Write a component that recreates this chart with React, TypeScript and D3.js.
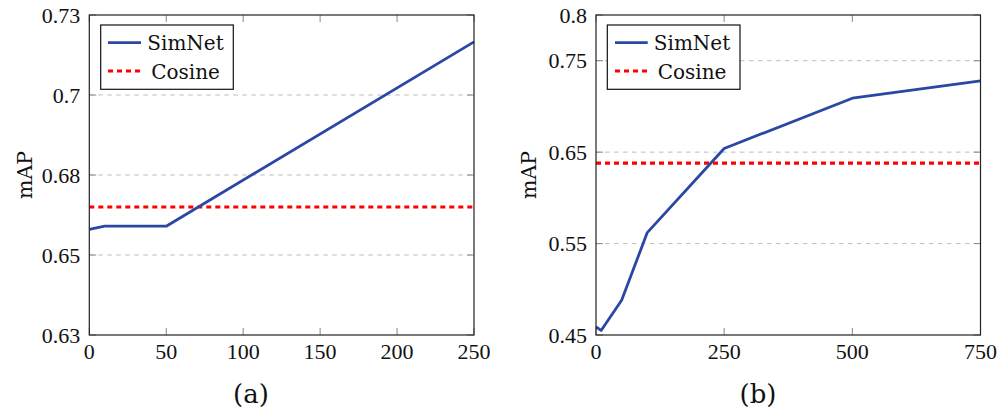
import React from "react";
import * as d3 from "d3";

// ---- Data ----
const xValuesA = [0, 10, 50, 250];
const simNetA = [0.658, 0.659, 0.659, 0.7166];
const cosineA = 0.665;
const yTicksA = [0.625, 0.65, 0.675, 0.7, 0.725];
const yTickLabelsA = ["0.63", "0.65", "0.68", "0.7", "0.73"];
const xTicksA = [0, 50, 100, 150, 200, 250];

const xValuesB = [0, 10, 50, 100, 250, 500, 750];
const simNetB = [0.459, 0.455, 0.488, 0.562, 0.654, 0.709, 0.728];
const cosineB = 0.638;
const yTicksB = [0.45, 0.55, 0.65, 0.75, 0.8];
const yTickLabelsB = ["0.45", "0.55", "0.65", "0.75", "0.8"];
const xTicksB = [0, 250, 500, 750];

const legendLabels = ["SimNet", "Cosine"];

const BLUE = "#2a47a3";
const RED = "#ff0000";
const TICK_FONT = "'Liberation Serif', serif";
const TEXT_FONT = "'DejaVu Serif', serif";

type PanelProps = {
  left: number;
  right: number;
  top: number;
  bottom: number;
  xDomain: [number, number];
  yDomain: [number, number];
  xs: number[];
  ys: number[];
  cos: number;
  yTicks: number[];
  yTickLabels: string[];
  xTicks: number[];
  gridTicks: number[];
  legend: { x0: number; x1: number; y0: number; y1: number; lineX0: number; lineX1: number; textX: number };
  caption: string;
  captionX: number;
  ylabelX: number;
};

function Panel(p: PanelProps) {
  const x = d3.scaleLinear().domain(p.xDomain).range([p.left, p.right]);
  const y = d3.scaleLinear().domain(p.yDomain).range([p.bottom, p.top]);
  const line = d3
    .line<number>()
    .x((_, i) => x(p.xs[i]))
    .y((d) => y(d));
  const tickLen = 7;
  const lg = p.legend;
  return (
    <g>
      {/* grid */}
      {p.gridTicks.map((t) => (
        <line key={"g" + t} x1={p.left} x2={p.right} y1={y(t)} y2={y(t)} stroke="#bdbdbd" strokeWidth={1} strokeDasharray="4.5,4.5" />
      ))}
      {/* ticks */}
      {p.yTicks.map((t) => (
        <g key={"yt" + t}>
          <line x1={p.left} x2={p.left + tickLen} y1={y(t)} y2={y(t)} stroke="#888" strokeWidth={1} />
          <line x1={p.right} x2={p.right - tickLen} y1={y(t)} y2={y(t)} stroke="#888" strokeWidth={1} />
        </g>
      ))}
      {p.xTicks.map((t) => (
        <g key={"xt" + t}>
          <line x1={x(t)} x2={x(t)} y1={p.bottom} y2={p.bottom - tickLen} stroke="#888" strokeWidth={1} />
          <line x1={x(t)} x2={x(t)} y1={p.top} y2={p.top + tickLen} stroke="#888" strokeWidth={1} />
        </g>
      ))}
      {/* cosine */}
      <line x1={p.left} x2={p.right} y1={y(p.cos)} y2={y(p.cos)} stroke={RED} strokeWidth={3.2} strokeDasharray="5,4" />
      {/* simnet */}
      <path d={line(p.ys) || ""} fill="none" stroke={BLUE} strokeWidth={2.8} strokeLinejoin="round" />
      {/* frame */}
      <rect x={p.left} y={p.top} width={p.right - p.left} height={p.bottom - p.top} fill="none" stroke="#222" strokeWidth={1.2} />
      {/* tick labels */}
      {p.yTicks.map((t, i) => (
        <text key={"yl" + t} x={p.left - 9} y={y(t)} dy="0.35em" textAnchor="end" fontFamily={TICK_FONT} fontSize={22} fill="#111">
          {p.yTickLabels[i]}
        </text>
      ))}
      {p.xTicks.map((t) => (
        <text key={"xl" + t} x={x(t)} y={p.bottom + 24} textAnchor="middle" fontFamily={TICK_FONT} fontSize={22} fill="#111">
          {t}
        </text>
      ))}
      {/* y label */}
      <text transform={`translate(${p.ylabelX},175) rotate(-90)`} textAnchor="middle" dy="0.35em" fontFamily={TEXT_FONT} fontSize={20.5} fill="#111">
        mAP
      </text>
      {/* legend */}
      <rect x={lg.x0} y={lg.y0} width={lg.x1 - lg.x0} height={lg.y1 - lg.y0} fill="#fff" stroke="#111" strokeWidth={1.2} />
      <line x1={lg.lineX0} x2={lg.lineX1} y1={42.7} y2={42.7} stroke={BLUE} strokeWidth={2.8} />
      <line x1={lg.lineX0} x2={lg.lineX1} y1={71} y2={71} stroke={RED} strokeWidth={3.2} strokeDasharray="5,4" />
      <text x={lg.textX} y={50} textAnchor="middle" fontFamily={TEXT_FONT} fontSize={20} fill="#111">
        {legendLabels[0]}
      </text>
      <text x={lg.textX} y={79} textAnchor="middle" fontFamily={TEXT_FONT} fontSize={20} fill="#111">
        {legendLabels[1]}
      </text>
      {/* caption */}
      <text x={p.captionX} y={403} textAnchor="middle" fontFamily={TEXT_FONT} fontSize={26} fill="#111">
        {p.caption}
      </text>
    </g>
  );
}

export default function App() {
  return (
    <svg width={1001} height={416} style={{ position: "absolute", left: 0, top: 0, background: "#fff" }}>
      <rect width={1001} height={416} fill="#fff" />
      <Panel
        left={89.3}
        right={474}
        top={15}
        bottom={335}
        xDomain={[0, 250]}
        yDomain={[0.625, 0.725]}
        xs={xValuesA}
        ys={simNetA}
        cos={cosineA}
        yTicks={yTicksA}
        yTickLabels={yTickLabelsA}
        xTicks={xTicksA}
        gridTicks={[0.65, 0.675, 0.7]}
        legend={{ x0: 100.7, x1: 233.3, y0: 25, y1: 89.3, lineX0: 108, lineX1: 141, textX: 185.5 }}
        caption="(a)"
        captionX={251}
        ylabelX={25}
      />
      <Panel
        left={596}
        right={980.5}
        top={15}
        bottom={335}
        xDomain={[0, 750]}
        yDomain={[0.45, 0.8]}
        xs={xValuesB}
        ys={simNetB}
        cos={cosineB}
        yTicks={yTicksB}
        yTickLabels={yTickLabelsB}
        xTicks={xTicksB}
        gridTicks={[0.55, 0.65, 0.75]}
        legend={{ x0: 607.3, x1: 740, y0: 25, y1: 89.3, lineX0: 615, lineX1: 647.7, textX: 692 }}
        caption="(b)"
        captionX={758}
        ylabelX={529}
      />
    </svg>
  );
}
